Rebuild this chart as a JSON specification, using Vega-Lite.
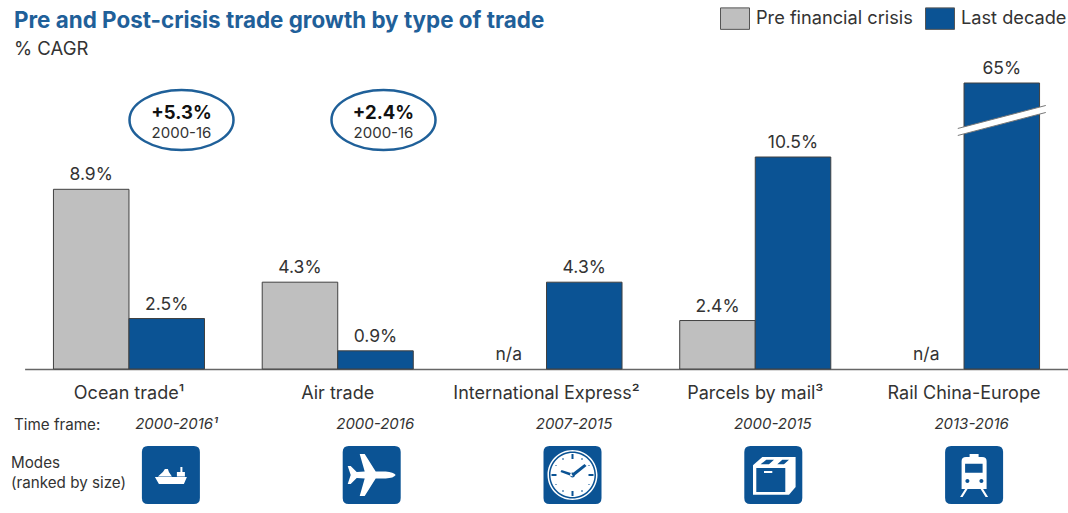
{
"$schema":"https://vega.github.io/schema/vega-lite/v6.json",
"width":1068,"height":513,"padding":0,"autosize":{"type":"none"},
"background":"white",
"config":{"view":{"stroke":null},"font":"Inter","text":{"font":"Inter","color":"#333333"}},
"title":{"text":"Pre and Post-crisis trade growth by type of trade","subtitle":"% CAGR","anchor":"start","frame":"group","orient":"top","offset":-58,"dx":14,"fontSize":22.4,"fontWeight":"bold","color":"#1F6099","font":"Inter","subtitleFont":"Inter","subtitleFontSize":18.5,"subtitleColor":"#333333","subtitlePadding":7},
"datasets":{
"bars":[
{"group":"Ocean trade¹","series":"Pre financial crisis","value":8.9,"label":"8.9%"},
{"group":"Ocean trade¹","series":"Last decade","value":2.5,"label":"2.5%"},
{"group":"Air trade","series":"Pre financial crisis","value":4.3,"label":"4.3%"},
{"group":"Air trade","series":"Last decade","value":0.9,"label":"0.9%"},
{"group":"International Express²","series":"Pre financial crisis","value":null,"label":"n/a"},
{"group":"International Express²","series":"Last decade","value":4.3,"label":"4.3%"},
{"group":"Parcels by mail³","series":"Pre financial crisis","value":2.4,"label":"2.4%"},
{"group":"Parcels by mail³","series":"Last decade","value":10.5,"label":"10.5%"},
{"group":"Rail China-Europe","series":"Pre financial crisis","value":null,"label":"n/a"},
{"group":"Rail China-Europe","series":"Last decade","value":65,"label":"65%"}],
"ovals":[{"mode":"Ocean trade¹","change":"+5.3%","period":"2000-16"},{"mode":"Air trade","change":"+2.4%","period":"2000-16"}],
"frames":[{"group":"Ocean trade¹","frame":"2000-2016¹"},{"group":"Air trade","frame":"2000-2016"},{"group":"International Express²","frame":"2007-2015"},{"group":"Parcels by mail³","frame":"2000-2015"},{"group":"Rail China-Europe","frame":"2013-2016"}]
},
"layer":[
{"data":{"name":"bars"},
"mark":{"type":"bar","stroke":"#404040","strokeWidth":1},
"encoding":{
"x":{"field":"group","type":"nominal","sort":null,"scale":{"domain":["Ocean trade¹","Air trade","International Express²","Parcels by mail³","Rail China-Europe"],"range":[24.6,1068.4],"paddingInner":0,"paddingOuter":0},"axis":{"title":null,"orient":"bottom","offset":-144,"ticks":false,"domain":true,"domainColor":"#666666","domainWidth":1.5,"labelAngle":0,"labelFontSize":18,"labelColor":"#333333","labelPadding":15,"labelFont":"Inter","labelLimit":400,"grid":false}},
"xOffset":{"field":"series","type":"nominal","sort":null,"scale":{"type":"band","domain":["Pre financial crisis","Last decade"],"paddingInner":0,"paddingOuter":0.382}},
"y":{"field":"value","type":"quantitative","stack":null,"scale":{"domain":[-7.2,0,10.5,65],"range":[513,369,157,83]},"axis":null},
"y2":{"datum":0},
"color":{"field":"series","type":"nominal","sort":null,"scale":{"domain":["Pre financial crisis","Last decade"],"range":["#BFBFBF","#0B5394"]},"legend":{"title":null,"orient":"none","legendX":720,"legendY":3.5,"direction":"horizontal","symbolType":"M-1,-0.74 H1 V0.74 H-1 Z","symbolSize":841,"symbolStrokeColor":"#555555","symbolStrokeWidth":1,"labelFontSize":18.2,"labelColor":"#333333","labelFont":"Inter","labelOffset":6,"columnPadding":10}}
}},
{"data":{"name":"bars"},"transform":[{"filter":"datum.value !== null"}],
"mark":{"type":"text","baseline":"bottom","dy":-5,"fontSize":17.5,"color":"#333333"},
"encoding":{
"x":{"field":"group","type":"nominal","sort":null,"scale":{"domain":["Ocean trade¹","Air trade","International Express²","Parcels by mail³","Rail China-Europe"],"range":[24.6,1068.4],"paddingInner":0,"paddingOuter":0},"axis":null},
"xOffset":{"field":"series","type":"nominal","sort":null,"scale":{"type":"band","domain":["Pre financial crisis","Last decade"],"paddingInner":0,"paddingOuter":0.382}},
"y":{"field":"value","type":"quantitative","stack":null,"scale":{"domain":[-7.2,0,10.5,65],"range":[513,369,157,83]},"axis":null},
"text":{"field":"label","type":"nominal"}
}},
{"data":{"name":"bars"},"transform":[{"filter":"datum.value === null"}],
"mark":{"type":"text","baseline":"bottom","dy":-5,"fontSize":17.5,"color":"#333333"},
"encoding":{
"x":{"field":"group","type":"nominal","sort":null,"scale":{"domain":["Ocean trade¹","Air trade","International Express²","Parcels by mail³","Rail China-Europe"],"range":[24.6,1068.4],"paddingInner":0,"paddingOuter":0},"axis":null},
"xOffset":{"field":"series","type":"nominal","sort":null,"scale":{"type":"band","domain":["Pre financial crisis","Last decade"],"paddingInner":0,"paddingOuter":0.382}},
"y":{"datum":0,"type":"quantitative","scale":{"domain":[-7.2,0,10.5,65],"range":[513,369,157,83]},"axis":null},
"text":{"field":"label","type":"nominal"}
}},
{"data":{"values":[{"group":"Rail China-Europe","series":"Last decade"}]},
"mark":{"type":"point","filled":true,"fill":"white","stroke":null,"opacity":1,"size":4,"shape":"M-44,15 L44,-8 L44,-15 L-44,8 Z"},
"encoding":{
"x":{"field":"group","type":"nominal","scale":{"domain":["Ocean trade¹","Air trade","International Express²","Parcels by mail³","Rail China-Europe"],"range":[24.6,1068.4],"paddingInner":0,"paddingOuter":0},"axis":null},
"xOffset":{"field":"series","type":"nominal","scale":{"type":"band","domain":["Pre financial crisis","Last decade"],"paddingInner":0,"paddingOuter":0.382}},
"y":{"datum":37.4,"type":"quantitative","scale":{"domain":[-7.2,0,10.5,65],"range":[513,369,157,83]},"axis":null}
}},
{"data":{"values":[{"group":"Rail China-Europe","series":"Last decade"}]},
"mark":{"type":"point","filled":false,"stroke":"#777777","strokeWidth":1,"opacity":1,"size":4,"shape":"M-44,15 L44,-8 M-44,8 L44,-15"},
"encoding":{
"x":{"field":"group","type":"nominal","scale":{"domain":["Ocean trade¹","Air trade","International Express²","Parcels by mail³","Rail China-Europe"],"range":[24.6,1068.4],"paddingInner":0,"paddingOuter":0},"axis":null},
"xOffset":{"field":"series","type":"nominal","scale":{"type":"band","domain":["Pre financial crisis","Last decade"],"paddingInner":0,"paddingOuter":0.382}},
"y":{"datum":37.4,"type":"quantitative","scale":{"domain":[-7.2,0,10.5,65],"range":[513,369,157,83]},"axis":null}
}},
{"data":{"name":"ovals"},
"mark":{"type":"point","filled":false,"stroke":"#1F6099","strokeWidth":2.5,"opacity":1,"size":4,"shape":"M-52,0 A52,30 0 1,1 52,0 A52,30 0 1,1 -52,0 Z"},
"encoding":{
"x":{"field":"mode","type":"nominal","sort":null,"scale":{"domain":["Ocean trade¹","Air trade"],"range":[80.5,484.5],"paddingInner":0,"paddingOuter":0},"axis":null},
"y":{"datum":37.75,"type":"quantitative","scale":{"domain":[-7.2,0,10.5,65],"range":[513,369,157,83]},"axis":null}
}},
{"data":{"name":"ovals"},
"mark":{"type":"text","fontSize":18.5,"fontWeight":"bold","color":"#111111"},
"encoding":{
"x":{"field":"mode","type":"nominal","sort":null,"scale":{"domain":["Ocean trade¹","Air trade"],"range":[80.5,484.5],"paddingInner":0,"paddingOuter":0},"axis":null},
"y":{"datum":43,"type":"quantitative","scale":{"domain":[-7.2,0,10.5,65],"range":[513,369,157,83]},"axis":null},
"text":{"field":"change","type":"nominal"}
}},
{"data":{"name":"ovals"},
"mark":{"type":"text","fontSize":15,"color":"#333333"},
"encoding":{
"x":{"field":"mode","type":"nominal","sort":null,"scale":{"domain":["Ocean trade¹","Air trade"],"range":[80.5,484.5],"paddingInner":0,"paddingOuter":0},"axis":null},
"y":{"datum":28.4,"type":"quantitative","scale":{"domain":[-7.2,0,10.5,65],"range":[513,369,157,83]},"axis":null},
"text":{"field":"period","type":"nominal"}
}},
{"data":{"name":"frames"},
"mark":{"type":"text","fontSize":15,"fontStyle":"italic","color":"#333333"},
"encoding":{
"x":{"field":"group","type":"nominal","sort":null,"scale":{"domain":["Ocean trade¹","Air trade","International Express²","Parcels by mail³","Rail China-Europe"],"range":[77,1071],"paddingInner":0,"paddingOuter":0},"axis":null},
"y":{"datum":-2.75,"type":"quantitative","scale":{"domain":[-7.2,0,10.5,65],"range":[513,369,157,83]},"axis":null},
"text":{"field":"frame","type":"nominal"}
}},
{"data":{"values":[{"row":"Time frame:"}]},
"mark":{"type":"text","align":"left","fontSize":15.2,"color":"#333333"},
"encoding":{
"x":{"field":"row","type":"nominal","scale":{"domain":["Time frame:"],"range":[0,28],"paddingInner":0,"paddingOuter":0},"axis":null},
"y":{"datum":-2.8,"type":"quantitative","scale":{"domain":[-7.2,0,10.5,65],"range":[513,369,157,83]},"axis":null},
"text":{"field":"row","type":"nominal"}
}},
{"data":{"values":[{"row":"Modes\n(ranked by size)"}]},
"mark":{"type":"text","align":"left","fontSize":15.2,"color":"#333333","lineBreak":"\n","lineHeight":20},
"encoding":{
"x":{"field":"row","type":"nominal","scale":{"domain":["Modes\n(ranked by size)"],"range":[0,22],"paddingInner":0,"paddingOuter":0},"axis":null},
"y":{"datum":-4.7,"type":"quantitative","scale":{"domain":[-7.2,0,10.5,65],"range":[513,369,157,83]},"axis":null},
"text":{"field":"row","type":"nominal"}
}},
{"data":{"name":"frames"},
"mark":{"type":"point","filled":true,"fill":"#0B5394","stroke":null,"opacity":1,"size":4,"shape":"M-23,-29 H23 Q29,-29 29,-23 V23 Q29,29 23,29 H-23 Q-29,29 -29,23 V-23 Q-29,-29 -23,-29 Z"},
"encoding":{
"x":{"field":"group","type":"nominal","sort":null,"scale":{"domain":["Ocean trade¹","Air trade","International Express²","Parcels by mail³","Rail China-Europe"],"range":[70.5,1074.5],"paddingInner":0,"paddingOuter":0},"axis":null},
"y":{"datum":-5.3,"type":"quantitative","scale":{"domain":[-7.2,0,10.5,65],"range":[513,369,157,83]},"axis":null}
}},
{"data":{"name":"frames"},
"mark":{"type":"point","filled":true,"fill":"white","stroke":null,"opacity":1,"size":4},
"encoding":{
"x":{"field":"group","type":"nominal","sort":null,"scale":{"domain":["Ocean trade¹","Air trade","International Express²","Parcels by mail³","Rail China-Europe"],"range":[70.5,1074.5],"paddingInner":0,"paddingOuter":0},"axis":null},
"y":{"datum":-5.3,"type":"quantitative","scale":{"domain":[-7.2,0,10.5,65],"range":[513,369,157,83]},"axis":null},
"shape":{"field":"group","type":"nominal","legend":null,"scale":{"domain":["Ocean trade¹","Air trade","International Express²","Parcels by mail³","Rail China-Europe"],"range":[
"M-16,2 H16 L13,9 H-12 Z M-13,1.5 L-8,-3 L-6,-6 L-3,-6 L-2,-3 L1,1.5 Z M6,1.5 V-3 H9.5 V-8 H11.5 V-3 H14 V1.5 Z",
"M24,0 Q22,-3 14,-3.5 L4,-3.5 L-7,-21 L-12,-21 L-7,-3.5 L-15,-3 L-21,-9 L-24,-9 L-21,0 L-24,9 L-21,9 L-15,3 L-7,3.5 L-12,21 L-7,21 L4,3.5 L14,3.5 Q22,3 24,0 Z",
"M-25,0 A25,25 0 1,1 25,0 A25,25 0 1,1 -25,0 Z M-23.5,0 A23.5,23.5 0 1,0 23.5,0 A23.5,23.5 0 1,0 -23.5,0 Z M-22,0 A22,22 0 1,1 22,0 A22,22 0 1,1 -22,0 Z",
"M-20.3,-9.7 L-11,-18 H22.3 V12 L15.7,19.7 H-20.3 Z",
"M-12.5,-14 Q-12.5,-18 -8,-18 H-4.5 V-21 H4.5 V-18 H8 Q12.5,-18 12.5,-14 V14 H9 L14,22 H11.5 L6.5,14 H-6.5 L-11.5,22 H-14 L-9,14 H-12.5 Z"
]}}
}},
{"data":{"values":[{"group":"International Express²"},{"group":"Parcels by mail³"},{"group":"Rail China-Europe"}]},
"mark":{"type":"point","filled":true,"fill":"#0B5394","stroke":null,"opacity":1,"size":4},
"encoding":{
"x":{"field":"group","type":"nominal","sort":null,"scale":{"domain":["Ocean trade¹","Air trade","International Express²","Parcels by mail³","Rail China-Europe"],"range":[70.5,1074.5],"paddingInner":0,"paddingOuter":0},"axis":null},
"y":{"datum":-5.3,"type":"quantitative","scale":{"domain":[-7.2,0,10.5,65],"range":[513,369,157,83]},"axis":null},
"shape":{"field":"group","type":"nominal","legend":null,"scale":{"domain":["International Express²","Parcels by mail³","Rail China-Europe"],"range":[
"M-1,-1 L12,-11 L14,-9 L1,1.5 Z M0,-1.5 L-11,-5 L-12,-3 L0,1.5 Z M-2.5,0 A2.5,2.5 0 1,1 2.5,0 A2.5,2.5 0 1,1 -2.5,0 Z M-1,-21 H1 V-16 H-1 Z M-1,16 H1 V21 H-1 Z M-21,-1 H-16 V1 H-21 Z M16,-1 H21 V1 H16 Z M9,-17 L10,-17 L10,-15 L9,-15 Z M16,-10 L17,-10 L17,-9 L16,-9 Z M16,9 L17,9 L17,10 L16,10 Z M9,15 L10,15 L10,17 L9,17 Z M-10,15 L-9,15 L-9,17 L-10,17 Z M-17,9 L-16,9 L-16,10 L-17,10 Z M-17,-10 L-16,-10 L-16,-9 L-17,-9 Z M-10,-17 L-9,-17 L-9,-15 L-10,-15 Z",
"M-17,-7 H12 V17 H-17 Z M-9.3,-4 V-2 H-1 V-4 Z M-12.7,-10.7 L-7,-15.3 H0.7 L-4.3,-10.7 Z M4,-10.7 L9,-15.3 H15.7 L10.7,-10.7 Z",
"M-9,-11.3 H8.5 V-2.3 H-9 Z M-8.7,6 A2,2 0 1,1 -4.7,6 A2,2 0 1,1 -8.7,6 Z M5.3,6 A2,2 0 1,1 9.3,6 A2,2 0 1,1 5.3,6 Z"
]}}
}}
],
"resolve":{"scale":{"x":"independent","xOffset":"independent","shape":"independent"},"axis":{"x":"independent"}}
}
